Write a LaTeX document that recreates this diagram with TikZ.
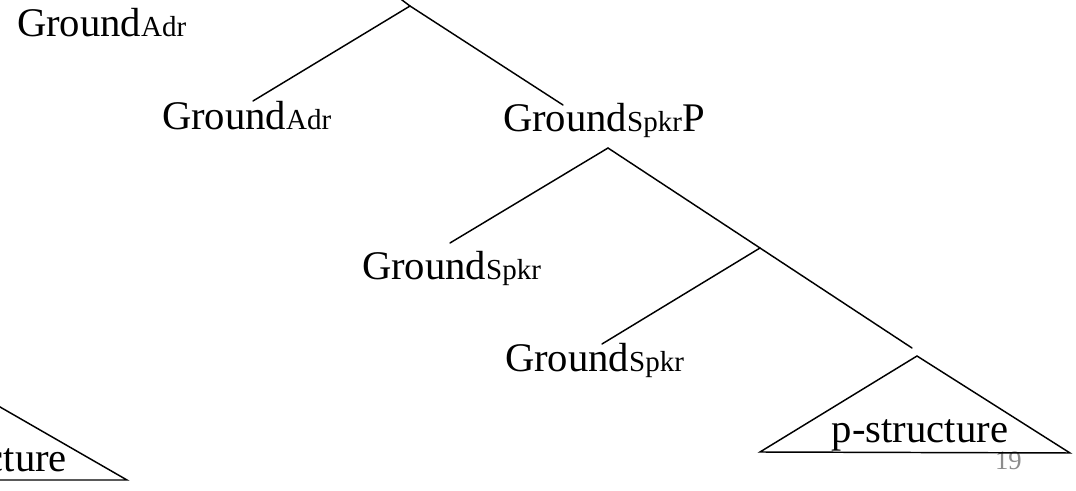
\documentclass[tikz,border=0pt]{standalone}
\usepackage{fontspec}
\setmainfont{Liberation Serif}
\newcommand\mainsz{\fontsize{30.5}{34}\selectfont}
\newcommand\smallsub{\fontsize{21.75}{24}\selectfont}
\definecolor{pagegray}{HTML}{8C8C8C}
\tikzset{
  lbl/.style={inner sep=0pt, outer sep=0pt, anchor=base west, font=\mainsz},
  branch/.style={line width=1.1pt, line cap=round},
  tri/.style={line width=1.1pt, line join=miter},
}
\begin{document}
\begin{tikzpicture}[x=0.75pt, y=-0.75pt]
\clip (0,0) rectangle (1076,491);
\fill[white] (0,0) rectangle (1076,491);
% labels
\node[lbl] (adrTop) at (17,37) {Ground{\smallsub Adr}};
\node[lbl] (adr) at (162,130) {Ground{\smallsub Adr}};
\node[lbl] (spkrP) at (503,132) {Ground{\smallsub Spkr}P};
\node[lbl] (spkrA) at (362,280) {Ground{\smallsub Spkr}};
\node[lbl] (spkrB) at (505,372) {Ground{\smallsub Spkr}};
\node[lbl, anchor=base] (pstrR) at (920,443) {p-structure};
\node[lbl, anchor=base east] (pstrL) at (67,472) {p-structure};
\node[lbl, anchor=base west, font=\fontsize{20}{22}\selectfont, text=pagegray] (pnum) at (995,470) {19};
% tree points
\coordinate (top) at (386,-12);
\coordinate (J1) at (410,6);
\coordinate (adrEnd) at (253,101);
\coordinate (spkrPEnd) at (563,105);
\coordinate (A2) at (608,148);
\coordinate (spkrAEnd) at (450,243);
\coordinate (J2) at (760,248);
\coordinate (spkrBEnd) at (602,344);
\coordinate (triREnd) at (912,348);
% triangles
\coordinate (triRTop) at (917,356);
\coordinate (triRL) at (760,452);
\coordinate (triRR) at (1070,453);
\coordinate (triLTop) at (-26,392);
\coordinate (triLL) at (-183,480);
\coordinate (triLR) at (127,480);
% connectors
\draw[branch] (top) -- (J1);
\draw[branch] (J1) -- (adrEnd);
\draw[branch] (J1) -- (spkrPEnd);
\draw[branch] (A2) -- (spkrAEnd);
\draw[branch] (A2) -- (J2);
\draw[branch] (J2) -- (spkrBEnd);
\draw[branch] (J2) -- (triREnd);
\draw[tri] (triRTop) -- (triRL) -- (triRR) -- cycle;
\draw[tri] (triLTop) -- (triLL) -- (triLR) -- cycle;
\end{tikzpicture}
\end{document}
